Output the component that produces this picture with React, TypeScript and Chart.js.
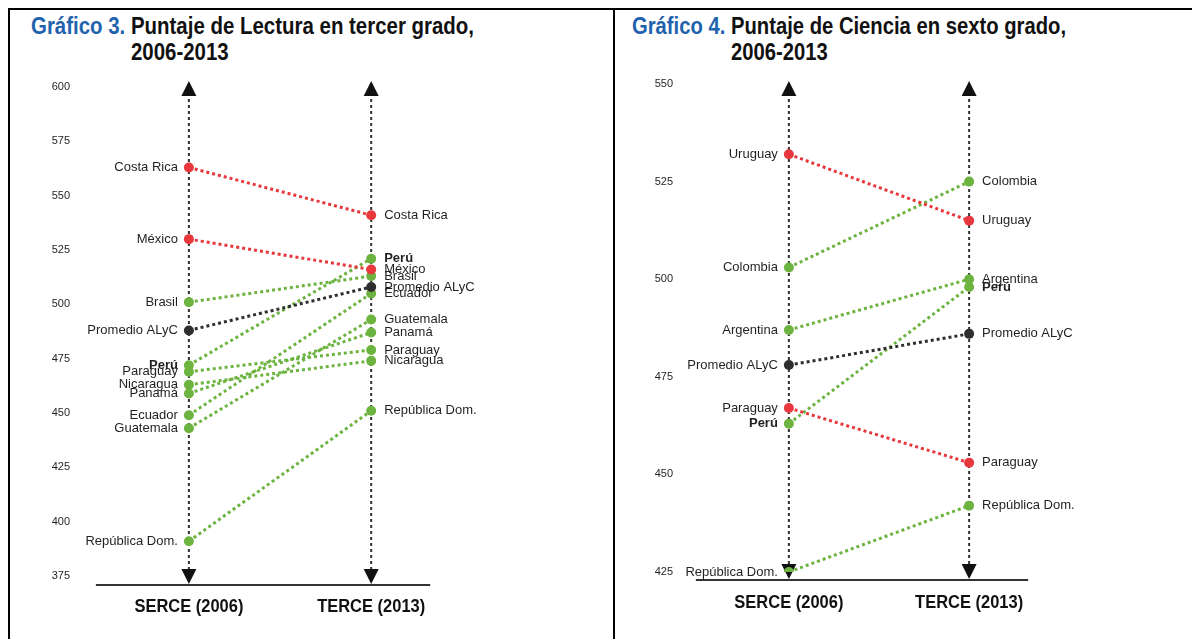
import React, { useEffect, useMemo, useRef } from 'react';
import { Chart, registerables } from 'chart.js';

Chart.register(...registerables);

// ---------- DATA ----------
const periods = ['SERCE (2006)', 'TERCE (2013)'];
const averageName = 'Promedio ALyC';
const boldName = 'Perú';

// Gráfico 3 — Lectura, tercer grado
const lecturaCountries = ['Costa Rica', 'México', 'Brasil', 'Promedio ALyC', 'Perú', 'Paraguay', 'Nicaragua', 'Panamá', 'Ecuador', 'Guatemala', 'República Dom.'];
const lecturaSerce = [563, 530, 501, 488, 472, 469, 463, 459, 449, 443, 391];
const lecturaTerce = [541, 516, 513, 508, 521, 479, 474, 487, 505, 493, 451];
const lecturaTicks = [375, 400, 425, 450, 475, 500, 525, 550, 575, 600];

// Gráfico 4 — Ciencia, sexto grado
const cienciaCountries = ['Uruguay', 'Colombia', 'Argentina', 'Promedio ALyC', 'Paraguay', 'Perú', 'República Dom.'];
const cienciaSerce = [532, 503, 487, 478, 467, 463, 425];
const cienciaTerce = [515, 525, 500, 486, 453, 498, 442];
const cienciaTicks = [425, 450, 475, 500, 525, 550];

// ---------- STYLE ----------
const RED = '#e8383d';
const GREEN = '#6db33f';
const DARK = '#2e2e2e';
const TEXT = '#231f20';
const BLUE = '#1f62ad';
const SANS = '"Liberation Sans", Arial, Helvetica, sans-serif';

function measure(font: string, text: string) {
  const c = document.createElement('canvas').getContext('2d')!;
  c.font = font;
  return c.measureText(text).width;
}

type PanelProps = {
  countries: string[];
  serce: number[];
  terce: number[];
  ticks: number[];
  canvasLeft: number;
  canvasTop: number;
  canvasWidth: number;
  canvasHeight: number;
  yAxisWidth: number;
  padTop: number;
  padBottom: number;
  serceX: number;
  terceX: number;
  baseGap: number;
  periodGap: number;
};

function colorFor(name: string, a: number, b: number) {
  if (name === averageName) return DARK;
  return b < a ? RED : GREEN;
}

function Panel(p: PanelProps) {
  const ref = useRef<HTMLCanvasElement | null>(null);
  useEffect(() => {
    const canvas = ref.current!;
    const areaLeft = p.canvasLeft + p.yAxisWidth;
    const areaRight = p.canvasLeft + p.canvasWidth;
    const unit = p.terceX - p.serceX;
    const xMin = (areaLeft - p.serceX) / unit;
    const xMax = (areaRight - p.serceX) / unit;
    const yMin = Math.min(...p.ticks);
    const yMax = Math.max(...p.ticks);
    const periodFont = `bold 19px ${SANS}`;
    const periodScale = 109 / measure(periodFont, periods[0]);

    const decor = {
      id: 'decor',
      beforeDatasetsDraw(chart: any) {
        const ctx = chart.ctx;
        const xs = chart.scales.x;
        const area = chart.chartArea;
        const baseY = area.bottom + p.baseGap;
        const topTip = 81 - p.canvasTop;
        const xPix = [xs.getPixelForValue(0), xs.getPixelForValue(1)];
        ctx.save();
        ctx.strokeStyle = '#333';
        ctx.lineWidth = 2;
        ctx.beginPath();
        ctx.moveTo(xPix[0] - 93, baseY);
        ctx.lineTo(xPix[1] + 59, baseY);
        ctx.stroke();
        for (const x of xPix) {
          ctx.strokeStyle = '#333';
          ctx.lineWidth = 2;
          ctx.setLineDash([3, 3]);
          ctx.beginPath();
          ctx.moveTo(x, topTip + 12);
          ctx.lineTo(x, baseY - 12);
          ctx.stroke();
          ctx.setLineDash([]);
          ctx.fillStyle = '#111';
          ctx.beginPath();
          ctx.moveTo(x, topTip);
          ctx.lineTo(x - 7.5, topTip + 15);
          ctx.lineTo(x + 7.5, topTip + 15);
          ctx.closePath();
          ctx.fill();
          ctx.beginPath();
          ctx.moveTo(x, baseY - 1);
          ctx.lineTo(x - 7.5, baseY - 16);
          ctx.lineTo(x + 7.5, baseY - 16);
          ctx.closePath();
          ctx.fill();
        }
        ctx.fillStyle = '#111';
        ctx.font = periodFont;
        ctx.textAlign = 'center';
        ctx.textBaseline = 'middle';
        periods.forEach((t, i) => {
          ctx.save();
          ctx.translate(xPix[i], baseY + p.periodGap);
          ctx.scale(periodScale, 1);
          ctx.fillText(t, 0, 0);
          ctx.restore();
        });
        ctx.restore();
      },
      afterDatasetsDraw(chart: any) {
        const ctx = chart.ctx;
        const xs = chart.scales.x;
        const ys = chart.scales.y;
        const xPix = [xs.getPixelForValue(0), xs.getPixelForValue(1)];
        ctx.save();
        ctx.fillStyle = TEXT;
        ctx.textBaseline = 'middle';
        p.countries.forEach((c, i) => {
          ctx.font = `${c === boldName ? 'bold ' : ''}13px ${SANS}`;
          ctx.textAlign = 'right';
          ctx.fillText(c, xPix[0] - 11, ys.getPixelForValue(p.serce[i]));
          ctx.textAlign = 'left';
          ctx.fillText(c, xPix[1] + 13, ys.getPixelForValue(p.terce[i]));
        });
        ctx.restore();
      },
    };

    const chart = new Chart(canvas, {
      type: 'line',
      data: {
        datasets: p.countries.map((c, i) => {
          const col = colorFor(c, p.serce[i], p.terce[i]);
          return {
            label: c,
            data: [
              { x: 0, y: p.serce[i] },
              { x: 1, y: p.terce[i] },
            ],
            borderColor: col,
            backgroundColor: col,
            pointBackgroundColor: col,
            pointBorderColor: col,
            pointBorderWidth: 0,
            pointRadius: 5,
            borderWidth: 3,
            borderDash: [3, 3],
          };
        }),
      },
      options: {
        animation: false,
        responsive: false,
        maintainAspectRatio: false,
        layout: { padding: { top: p.padTop, bottom: p.padBottom, left: 0, right: 0 } },
        plugins: { legend: { display: false }, tooltip: { enabled: false } },
        scales: {
          x: { type: 'linear', min: xMin, max: xMax, display: false },
          y: {
            type: 'linear',
            min: yMin,
            max: yMax,
            afterBuildTicks: (s: any) => {
              s.ticks = p.ticks.map((v) => ({ value: v }));
            },
            afterFit: (s: any) => {
              s.width = p.yAxisWidth;
            },
            grid: { display: false, drawTicks: false },
            border: { display: false },
            ticks: { padding: 0, autoSkip: false, color: TEXT, font: { family: SANS, size: 11 } },
          },
        },
      },
      plugins: [decor],
    } as any);
    return () => chart.destroy();
  }, []);
  return (
    <canvas
      ref={ref}
      width={p.canvasWidth}
      height={p.canvasHeight}
      style={{ position: 'absolute', left: p.canvasLeft, top: p.canvasTop, width: p.canvasWidth, height: p.canvasHeight }}
    />
  );
}

function Title({ left, num, text, width }: { left: number; num: string; text: string[]; width: number }) {
  const font = `bold 23px ${SANS}`;
  const k = useMemo(() => width / measure(font, num + ' ' + text[0]), []);
  return (
    <div
      style={{
        position: 'absolute',
        left,
        top: 13,
        display: 'flex',
        fontFamily: SANS,
        fontWeight: 'bold',
        fontSize: 23,
        lineHeight: '26px',
        color: '#111',
        whiteSpace: 'nowrap',
        transform: `scaleX(${k})`,
        transformOrigin: 'left top',
      }}
    >
      <span style={{ color: BLUE }}>{num + '\u00a0'}</span>
      <div>
        {text.map((t, i) => (
          <div key={i}>{t}</div>
        ))}
      </div>
    </div>
  );
}

export default function App() {
  const line = (s: React.CSSProperties) => <div style={{ position: 'absolute', background: '#000', ...s }} />;
  return (
    <div style={{ position: 'absolute', left: 0, top: 0, width: 1192, height: 639, background: '#fff', overflow: 'hidden' }}>
      {line({ left: 8, top: 8, width: 1184, height: 2 })}
      {line({ left: 8, top: 8, width: 2, height: 631 })}
      {line({ left: 613, top: 8, width: 2, height: 631 })}
      <Title left={31} num="Gráfico 3." text={['Puntaje de Lectura en tercer grado,', '2006-2013']} width={443} />
      <Title left={632} num="Gráfico 4." text={['Puntaje de Ciencia en sexto grado,', '2006-2013']} width={434} />
      <Panel
        countries={lecturaCountries}
        serce={lecturaSerce}
        terce={lecturaTerce}
        ticks={lecturaTicks}
        canvasLeft={0}
        canvasTop={60}
        canvasWidth={612}
        canvasHeight={579}
        yAxisWidth={70}
        padTop={27}
        padBottom={63}
        serceX={190}
        terceX={374}
        baseGap={9}
        periodGap={22}
      />
      <Panel
        countries={cienciaCountries}
        serce={cienciaSerce}
        terce={cienciaTerce}
        ticks={cienciaTicks}
        canvasLeft={616}
        canvasTop={60}
        canvasWidth={576}
        canvasHeight={579}
        yAxisWidth={57}
        padTop={24}
        padBottom={67}
        serceX={790}
        terceX={972}
        baseGap={8}
        periodGap={23}
      />
    </div>
  );
}
